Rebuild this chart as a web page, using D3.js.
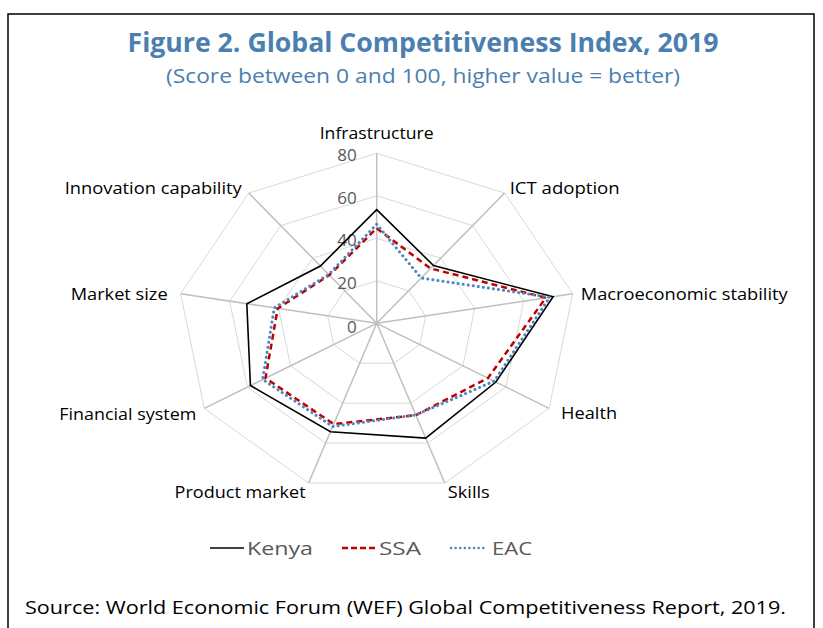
<html>
<head>
<meta charset="utf-8">
<style>
  body { margin: 0; background: #fff; }
  text { font-family: "Open Sans", "Noto Sans", sans-serif; }
</style>
</head>
<body>
<script src="https://d3js.org/d3.v7.min.js"></script>
<script>
// data
var pillars = ["Infrastructure", "ICT adoption", "Macroeconomic stability", "Health", "Skills",
               "Product market", "Financial system", "Market size", "Innovation capability"];
var kenya = [53.5, 35.5, 72.0, 55.3, 57.5, 54.3, 58.6, 53.0, 35.2];
var ssa   = [44.7, 33.7, 69.0, 51.6, 46.0, 50.5, 51.6, 40.4, 29.6];
var eac   = [46.6, 27.8, 70.6, 54.5, 45.9, 51.7, 52.9, 41.8, 30.0];
var ticks = [0, 20, 40, 60, 80];
var seriesNames = ["Kenya", "SSA", "EAC"];

var W = 823, H = 628;
var svg = d3.select("body").append("svg").attr("width", W).attr("height", H);

// frame
svg.append("rect").attr("x", 8).attr("y", 14).attr("width", 806).attr("height", 700)
   .attr("fill", "none").attr("stroke", "#000").attr("stroke-width", 1.5);

// titles (widths matched to the reference)
function fitText(sel, w) { return sel.attr("textLength", w).attr("lengthAdjust", "spacingAndGlyphs"); }
fitText(svg.append("text").attr("x", 423).attr("y", 52).attr("text-anchor", "middle")
   .attr("font-size", 26).attr("font-weight", "bold").attr("fill", "#4a7fb0")
   .text("Figure 2. Global Competitiveness Index, 2019"), 591);
fitText(svg.append("text").attr("x", 423).attr("y", 83).attr("text-anchor", "middle")
   .attr("font-size", 20).attr("fill", "#4a7fb0")
   .text("(Score between 0 and 100, higher value = better)"), 514);

// radar geometry (reference is stretched horizontally)
var cx = 376.7, cy = 323.3, sx = 1.171;
var r = d3.scaleLinear().domain([0, 80]).range([0, 170]);
var step = 2 * Math.PI / pillars.length;
function px(v, i) { return cx + r(v) * Math.sin(i * step) * sx; }
function py(v, i) { return cy - r(v) * Math.cos(i * step); }

var g = svg.append("g");

// grid polygons
var grid = d3.line().x(function(d){ return px(d[0], d[1]); }).y(function(d){ return py(d[0], d[1]); })
             .curve(d3.curveLinearClosed);
ticks.slice(1).forEach(function(t) {
  g.append("path").attr("d", grid(pillars.map(function(p, i){ return [t, i]; })))
   .attr("fill", "none").attr("stroke", "#d9d9d9").attr("stroke-width", 1);
});
// spokes
g.selectAll("line.spoke").data(pillars).enter().append("line")
 .attr("x1", cx).attr("y1", cy)
 .attr("x2", function(d, i){ return px(80, i); })
 .attr("y2", function(d, i){ return py(80, i); })
 .attr("stroke", "#bfbfbf").attr("stroke-width", 1.5);

// tick labels
g.selectAll("text.tick").data(ticks).enter().append("text")
 .attr("x", cx - 20).attr("y", function(d){ return r(d) ? cy - r(d) + 8 : cy + 10; })
 .attr("text-anchor", "end").attr("font-size", 17).attr("fill", "#595959")
 .text(function(d){ return d; });

// axis labels
var labelPos = [
  {a: "middle", dx: 0, dy: -14}, {a: "start", dx: 5, dy: 1}, {a: "start", dx: 8, dy: 6},
  {a: "start", dx: 12, dy: 11}, {a: "start", dx: 3, dy: 15}, {a: "end", dx: -3, dy: 15},
  {a: "end", dx: -8, dy: 12}, {a: "end", dx: -13, dy: 6}, {a: "end", dx: -7, dy: 1}
];
var labelW = [114, 110, 207, 56, 42, 131, 137, 97, 177];
g.selectAll("text.lab").data(pillars).enter().append("text")
 .attr("x", function(d, i){ return px(80, i) + labelPos[i].dx; })
 .attr("y", function(d, i){ return py(80, i) + labelPos[i].dy; })
 .attr("text-anchor", function(d, i){ return labelPos[i].a; })
 .attr("font-size", 15.5).attr("fill", "#000")
 .attr("textLength", function(d, i){ return labelW[i]; })
 .attr("lengthAdjust", "spacingAndGlyphs")
 .text(function(d){ return d; });

// series
var styles = [
  {stroke: "#000000", width: 1.6, dash: null, cap: "butt"},
  {stroke: "#c00000", width: 2.5, dash: "6,4", cap: "butt"},
  {stroke: "#4f86bf", width: 3, dash: "0.1,5", cap: "round"}
];
var line = d3.line().x(function(d, i){ return px(d, i); }).y(function(d, i){ return py(d, i); })
             .curve(d3.curveLinearClosed);
[kenya, ssa, eac].forEach(function(vals, k) {
  g.append("path").attr("d", line(vals)).attr("fill", "none")
   .attr("stroke", styles[k].stroke).attr("stroke-width", styles[k].width)
   .attr("stroke-dasharray", styles[k].dash).attr("stroke-linecap", styles[k].cap)
   .attr("stroke-linejoin", "miter");
});

// legend
var legX = [210, 342, 451], legTW = [66, 42, 40];
var leg = svg.selectAll("g.leg").data(seriesNames).enter().append("g")
  .attr("transform", function(d, i){ return "translate(" + legX[i] + ",548)"; });
leg.append("line").attr("x1", 0).attr("x2", 34).attr("y1", 0).attr("y2", 0)
   .attr("stroke", function(d, i){ return styles[i].stroke; })
   .attr("stroke-width", function(d, i){ return i === 0 ? 1.6 : 2.5; })
   .attr("stroke-dasharray", function(d, i){ return i === 1 ? "6,3" : (i === 2 ? "0.1,4.5" : null); })
   .attr("stroke-linecap", function(d, i){ return styles[i].cap; });
leg.append("text").attr("x", function(d, i){ return i === 2 ? 41 : 37; }).attr("y", 7)
   .attr("font-size", 19).attr("fill", "#595959")
   .attr("textLength", function(d, i){ return legTW[i]; }).attr("lengthAdjust", "spacingAndGlyphs")
   .text(function(d){ return d; });

// source
fitText(svg.append("text").attr("x", 25).attr("y", 614).attr("font-size", 19).attr("fill", "#000")
   .text("Source: World Economic Forum (WEF) Global Competitiveness Report, 2019."), 761);
</script>
</body>
</html>
